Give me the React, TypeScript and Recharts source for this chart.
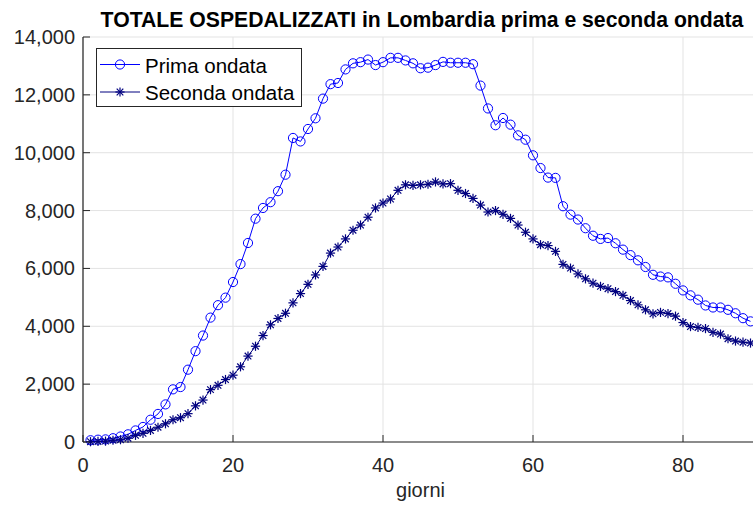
import React from 'react';
import { LineChart, Line, XAxis, YAxis, CartesianGrid, Legend } from 'recharts';

const TITLE = 'TOTALE OSPEDALIZZATI in Lombardia prima e seconda ondata';
const X_LABEL = 'giorni';
const SERIES_NAMES = ['Prima ondata', 'Seconda ondata'];

const primaOndata = [
  60, 80, 90, 130, 190, 265, 400, 520, 770, 970,
  1300, 1820, 1900, 2500, 3140, 3680, 4300, 4730, 4990, 5530,
  6150, 6880, 7720, 8090, 8290, 8670, 9240, 10510, 10390, 10820,
  11190, 11870, 12370, 12410, 12880, 13090, 13130, 13220, 13030, 13130,
  13280, 13280, 13190, 13090, 12920, 12940, 13030, 13140, 13110, 13110,
  13110, 13060, 12320, 11530, 10950, 11200, 10970, 10600, 10450, 9910,
  9470, 9140, 9130, 8150, 7860, 7690, 7390, 7130, 7020, 7050,
  6870, 6650, 6460, 6280, 6050, 5780, 5720, 5690, 5470, 5240,
  5070, 4920, 4720, 4650, 4650, 4570, 4450, 4280, 4170,
];

const secondaOndata = [
  10, 20, 30, 60, 80, 130, 230, 300, 400, 510,
  630, 770, 840, 980, 1250, 1450, 1810, 1960, 2160, 2310,
  2600, 2970, 3310, 3680, 4050, 4270, 4450, 4810, 5130, 5450,
  5775, 6070, 6530, 6740, 7020, 7320, 7500, 7770, 8090, 8260,
  8400, 8700, 8890, 8870, 8890, 8910, 8990, 8920, 8930, 8700,
  8590, 8420, 8190, 7950, 8000, 7870, 7730, 7500, 7250, 7020,
  6820, 6790, 6590, 6140, 6010, 5810, 5640, 5490, 5380, 5300,
  5200, 5070, 4890, 4740, 4570, 4430, 4480, 4440, 4350, 4130,
  3990, 3960, 3920, 3790, 3730, 3570, 3490, 3450, 3420,
];

const xTicks = [0, 20, 40, 60, 80];
const yTicks = [0, 2000, 4000, 6000, 8000, 10000, 12000, 14000];

const data = primaOndata.map((v, i) => ({
  giorno: i + 1,
  prima: v,
  seconda: secondaOndata[i],
}));

const FONT = '"Liberation Sans", Arial, Helvetica, sans-serif';
const AXIS = '#262626';
const GRID = '#e3e3e3';
const BLUE = '#0000ff';
const NAVY = '#00007f';
const FS = 20;

const circleMark = (cx: number, cy: number, key?: string) => (
  <circle key={key} cx={cx} cy={cy} r={4.6} fill="none" stroke={BLUE} strokeWidth={1} />
);

const starMark = (cx: number, cy: number, key?: string) => {
  const a = 4.6;
  const d = 3.3;
  return (
    <g key={key} stroke={NAVY} strokeWidth={1.2}>
      <line x1={cx - a} y1={cy} x2={cx + a} y2={cy} />
      <line x1={cx} y1={cy - a} x2={cx} y2={cy + a} />
      <line x1={cx - d} y1={cy - d} x2={cx + d} y2={cy + d} />
      <line x1={cx - d} y1={cy + d} x2={cx + d} y2={cy - d} />
    </g>
  );
};

const CircleDot = (props: any) => {
  const { cx, cy, index } = props;
  if (cx == null || cy == null) return <g key={`c-${index}`} />;
  return circleMark(cx, cy, `c-${index}`);
};

const StarDot = (props: any) => {
  const { cx, cy, index } = props;
  if (cx == null || cy == null) return <g key={`s-${index}`} />;
  return starMark(cx, cy, `s-${index}`);
};

const XTick = (props: any) => {
  const { x, y, payload } = props;
  return (
    <g>
      <line x1={x} y1={y} x2={x} y2={y - 7} stroke={AXIS} strokeWidth={1} />
      <text x={x} y={y + 30} textAnchor="middle" fontSize={FS} fontFamily={FONT} fill={AXIS}>
        {payload.value}
      </text>
    </g>
  );
};

const YTick = (props: any) => {
  const { x, y, payload } = props;
  return (
    <g>
      <line x1={x} y1={y} x2={x + 7} y2={y} stroke={AXIS} strokeWidth={1} />
      <text x={x - 8} y={y + 7} textAnchor="end" fontSize={FS} fontFamily={FONT} fill={AXIS}>
        {Number(payload.value).toLocaleString('en-US')}
      </text>
    </g>
  );
};

const LegendBox = () => (
  <div
    style={{
      width: 206,
      height: 59,
      boxSizing: 'border-box',
      border: `1px solid ${AXIS}`,
      background: '#fff',
    }}
  >
    <svg width={204} height={57} style={{ display: 'block' }}>
      <line x1={3} y1={15.5} x2={43} y2={15.5} stroke={BLUE} strokeWidth={1} />
      {circleMark(23, 15.5)}
      <text x={48} y={23.5} fontSize={20.5} fontFamily={FONT} fill="#000">
        {SERIES_NAMES[0]}
      </text>
      <line x1={3} y1={43} x2={43} y2={43} stroke={NAVY} strokeWidth={1} />
      {starMark(23, 43)}
      <text x={48} y={51} fontSize={20.5} fontFamily={FONT} fill="#000">
        {SERIES_NAMES[1]}
      </text>
    </svg>
  </div>
);

export default function App() {
  return (
    <div
      style={{
        position: 'absolute',
        left: 0,
        top: 0,
        width: 753,
        height: 505,
        overflow: 'hidden',
        background: '#fff',
        fontFamily: FONT,
      }}
    >
      <LineChart
        width={758}
        height={505}
        data={data}
        margin={{ top: 37, right: 0, bottom: 0, left: 0 }}
        style={{ fontFamily: FONT }}
      >
        <CartesianGrid stroke={GRID} strokeWidth={1} horizontalValues={yTicks} verticalValues={xTicks} />
        <XAxis
          dataKey="giorno"
          type="number"
          domain={[0, 90]}
          ticks={xTicks}
          allowDataOverflow
          height={63}
          tickSize={0}
          tickMargin={0}
          tickLine={false}
          axisLine={{ stroke: AXIS, strokeWidth: 1.2 }}
          tick={<XTick />}
          interval={0}
          label={{ value: X_LABEL, position: 'insideBottom', offset: 8, fontSize: FS, fill: AXIS, fontFamily: FONT }}
        />
        <YAxis
          type="number"
          domain={[0, 14000]}
          ticks={yTicks}
          width={83}
          tickSize={0}
          tickMargin={0}
          tickLine={false}
          axisLine={{ stroke: AXIS, strokeWidth: 1.2 }}
          tick={<YTick />}
          interval={0}
        />
        <Legend
          layout="vertical"
          align="center"
          verticalAlign="middle"
          wrapperStyle={{ left: 96, top: 48, width: 206, height: 59 }}
          content={() => <LegendBox />}
        />
        <Line
          type="linear"
          dataKey="prima"
          name={SERIES_NAMES[0]}
          stroke={BLUE}
          strokeWidth={1}
          dot={<CircleDot />}
          activeDot={false}
          isAnimationActive={false}
        />
        <Line
          type="linear"
          dataKey="seconda"
          name={SERIES_NAMES[1]}
          stroke={NAVY}
          strokeWidth={1}
          dot={<StarDot />}
          activeDot={false}
          isAnimationActive={false}
        />
      </LineChart>
      <svg
        width={753}
        height={37}
        style={{ position: 'absolute', left: 0, top: 0, pointerEvents: 'none' }}
      >
        <text x={422} y={27} textAnchor="middle" fontSize={21.2} fontWeight="bold" fontFamily={FONT} fill="#000">
          {TITLE}
        </text>
      </svg>
    </div>
  );
}
